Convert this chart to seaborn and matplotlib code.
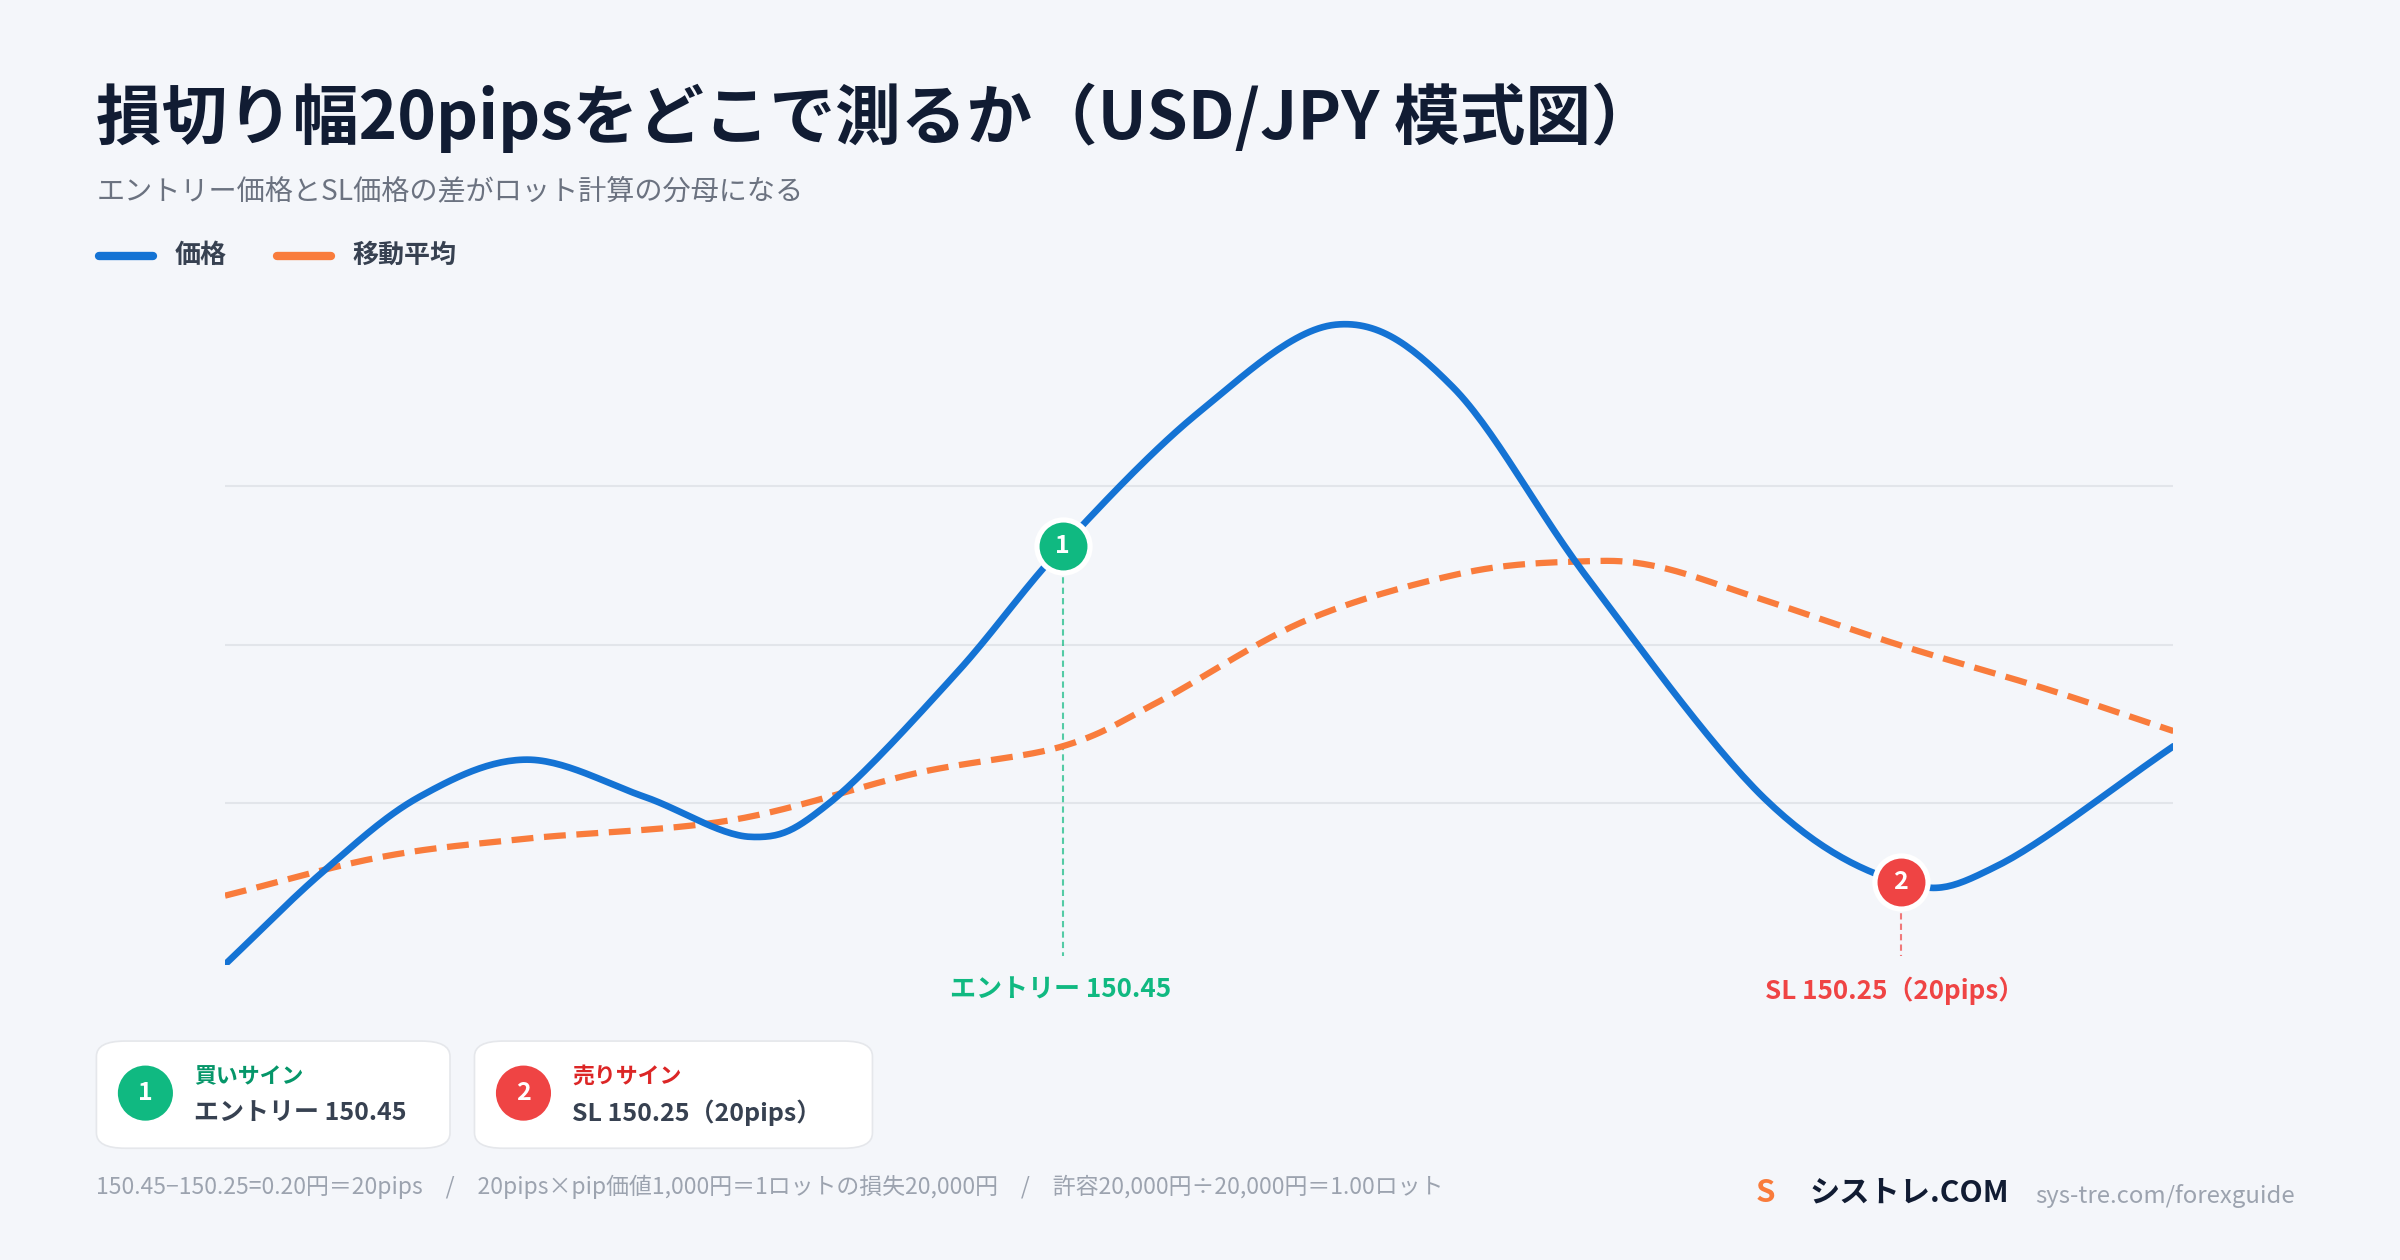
import numpy as np
import pandas as pd
import seaborn as sns
import matplotlib.pyplot as plt
from matplotlib.patches import FancyBboxPatch, Ellipse
from matplotlib.lines import Line2D

price_t = [0, 5, 10, 15.5, 21.5, 27, 31, 37.5, 43, 50, 57, 63, 70, 79, 86, 91, 100]
price_v = [150.201, 150.256, 150.301, 150.323, 150.301, 150.277, 150.297, 150.374, 150.450,
           150.530, 150.582, 150.545, 150.430, 150.300, 150.250, 150.260, 150.331]
ma_t = [0, 8, 15.5, 26, 35.5, 43, 48, 55.5, 63.5, 69.5, 73.5, 79, 86, 93.5, 100]
ma_v = [150.242, 150.265, 150.276, 150.287, 150.315, 150.331, 150.358, 150.406, 150.434,
        150.441, 150.438, 150.418, 150.391, 150.365, 150.340]
grid_levels = [150.297, 150.391, 150.486]
entry_t, entry_p = 43, 150.45
sl_t, sl_p = 86, 150.25

def smooth(t, v, n=30):
    t = np.asarray(t, float); v = np.asarray(v, float)
    P = np.column_stack([t, v])
    P = np.vstack([2 * P[0] - P[1], P, 2 * P[-1] - P[-2]])
    out = []
    for i in range(1, len(P) - 2):
        p0, p1, p2, p3 = P[i - 1], P[i], P[i + 1], P[i + 2]
        s = np.linspace(0, 1, n, endpoint=False)[:, None]
        c = 0.5 * ((2 * p1) + (-p0 + p2) * s + (2 * p0 - 5 * p1 + 4 * p2 - p3) * s ** 2
                   + (-p0 + 3 * p1 - 3 * p2 + p3) * s ** 3)
        out.append(c)
    out.append(P[-2][None, :])
    a = np.vstack(out)
    return a[:, 0], a[:, 1]

sns.set_theme(style="white")
plt.rcParams['font.family'] = ['Noto Sans CJK JP', 'DejaVu Sans']

W, H = 1568, 823
fig = plt.figure(figsize=(16, 8.4), dpi=150, facecolor='#f4f6fa')
def fx(x): return x / W
def fy(y): return 1 - y / H

ax = fig.add_axes([fx(147), fy(630), fx(1420) - fx(147), fy(200) - fy(630)])
ax.set_facecolor('none')
ax.set_xlim(0, 100)
ax.set_ylim(150.201, 150.593)
for g in grid_levels:
    ax.axhline(g, color='#e2e5ea', lw=1, zorder=0)
for s in ax.spines.values():
    s.set_visible(False)
ax.set_xticks([]); ax.set_yticks([])

px, py = smooth(price_t, price_v)
mx, my = smooth(ma_t, ma_v)
sns.lineplot(x=px, y=py, ax=ax, color='#1473d4', lw=3.2, sort=False, estimator=None, zorder=3)
sns.lineplot(x=mx, y=my, ax=ax, color='#f97c3c', lw=3, sort=False, estimator=None, zorder=2,
             linestyle=(0, (3.5, 1.7)))

ax.plot([entry_t, entry_t], [entry_p, 150.206], color='#10b981', lw=1, ls=(0, (3, 2)), alpha=0.7, zorder=1)
ax.plot([sl_t, sl_t], [sl_p, 150.206], color='#ef4444', lw=1, ls=(0, (3, 2)), alpha=0.7, zorder=1)
for t, p, c, lab in [(entry_t, entry_p, '#10b981', '1'), (sl_t, sl_p, '#ef4444', '2')]:
    ax.scatter([t], [p], s=650, color=c, edgecolor='white', linewidth=2.5, zorder=5, clip_on=False)
    ax.text(t, p, lab, color='white', ha='center', va='center', fontsize=12, fontweight='bold', zorder=6)

fig.text(fx(693), fy(647), 'エントリー 150.45', color='#10b981', fontsize=12.5, fontweight='bold', ha='center', va='center')
fig.text(fx(1238), fy(647), 'SL 150.25（20pips）', color='#ef4444', fontsize=12.5, fontweight='bold', ha='center', va='center')

fig.text(fx(63), fy(77), '損切り幅20pipsをどこで測るか（USD/JPY 模式図）', fontsize=31.5, fontweight='bold',
         color='#111c33', va='center')
fig.text(fx(63), fy(125), 'エントリー価格とSL価格の差がロット計算の分母になる', fontsize=13.5, color='#6b7280', va='center')

fig.add_artist(Line2D([fx(65), fx(100)], [fy(167)] * 2, color='#1473d4', lw=4, solid_capstyle='round'))
fig.text(fx(114), fy(167), '価格', fontsize=12.5, fontweight='bold', color='#374151', va='center')
fig.add_artist(Line2D([fx(181), fx(216)], [fy(167)] * 2, color='#f97c3c', lw=4, solid_capstyle='round'))
fig.text(fx(230), fy(167), '移動平均', fontsize=12.5, fontweight='bold', color='#374151', va='center')

cards = [(63, 294, '#10b981', '1', '買いサイン', '#059669', 'エントリー 150.45'),
         (310, 570, '#ef4444', '2', '売りサイン', '#dc2626', 'SL 150.25（20pips）')]
for x0, x1, c, n, head, hc, body in cards:
    fig.add_artist(FancyBboxPatch((fx(x0), fy(750)), fx(x1 - x0), fy(680) - fy(750),
                                  boxstyle='round,pad=0,rounding_size=0.012', fc='white',
                                  ec='#e5e7eb', lw=0.8, transform=fig.transFigure))
    fig.add_artist(Ellipse((fx(x0 + 32), fy(714)), 36 / W, 36 / H, transform=fig.transFigure, fc=c, ec='none'))
    fig.text(fx(x0 + 32), fy(714), n, color='white', fontsize=12, fontweight='bold', ha='center', va='center')
    fig.text(fx(x0 + 64), fy(703), head, color=hc, fontsize=10.5, fontweight='bold', va='center')
    fig.text(fx(x0 + 64), fy(727), body, color='#374151', fontsize=12, fontweight='bold', va='center')

fig.text(fx(63), fy(775), '150.45−150.25=0.20円＝20pips　/　20pips×pip価値1,000円＝1ロットの損失20,000円　/　許容20,000円÷20,000円＝1.00ロット',
         fontsize=11, color='#9ca3af', va='center')
fig.text(fx(1147), fy(779), 'S', fontsize=15, fontweight='bold', color='#f97c3c', va='center')
fig.text(fx(1182), fy(779), 'シストレ.COM', fontsize=14.5, fontweight='bold', color='#111c33', va='center')
fig.text(fx(1330), fy(781), 'sys-tre.com/forexguide', fontsize=11.5, color='#9ca3af', va='center')

fig.savefig('out.png', dpi=150, facecolor=fig.get_facecolor())
